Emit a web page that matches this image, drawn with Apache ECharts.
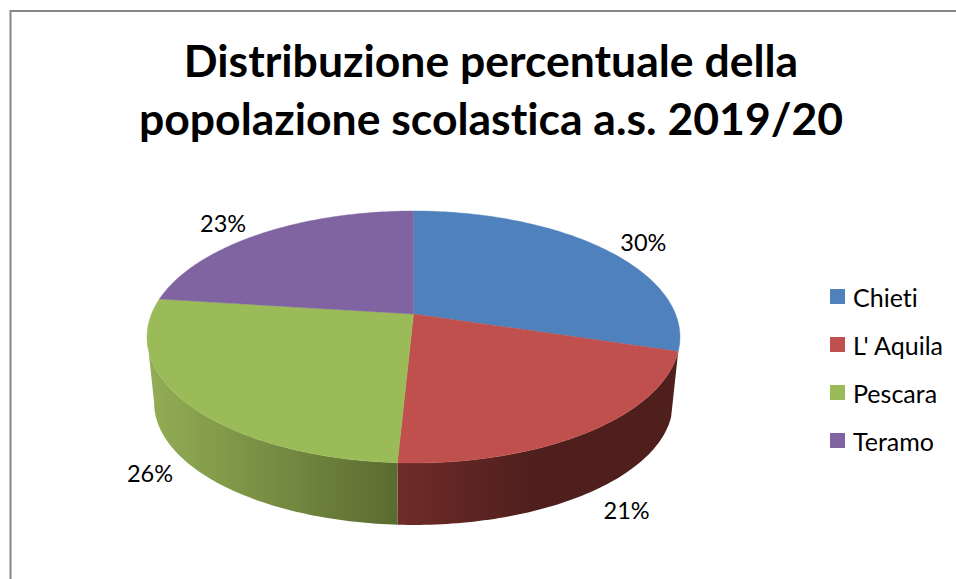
<!DOCTYPE html>
<html><head><meta charset="utf-8">
<style>html,body{margin:0;padding:0;background:#fff}#c{width:956px;height:579px}svg text{font-variant-ligatures:none !important}</style>
<script src="https://cdn.jsdelivr.net/npm/echarts@6/dist/echarts.min.js"></script>
</head><body><div id="c"></div>
<script>
const titleText = "Distribuzione percentuale della\npopolazione scolastica a.s. 2019/20";
const categories = ["Chieti", "L' Aquila", "Pescara", "Teramo"];
const shares = [29.7, 21.1, 26.2, 23.0];
const colors = ["#4F81BD", "#C0504D", "#9BBB59", "#8064A2"];
const wallColors = [
  null,
  ["#702B29", "#4E1F1D", 398, 535],
  ["#93AE55", "#5A6B30", 147, 398],
  null
];
const labelNudge = [[40, -7], [36, 79], [-36, 70], [-38, -11]];

const FONT = "Lato, Carlito, sans-serif";
const TOP = {x: 413.5, y: 314, a: 262, b: 121.8, k: 0.1825};
const BASE = {x: 413.5, y: 380.6, a: 255, b: 118, k: 0.1825};
const FRONT_END = 259.5;
function project(d, deg) {
  const t = deg * Math.PI / 180, u = Math.sin(t), v = -Math.cos(t), w = 1 - d.k * v;
  return [d.x + d.a * u / w, d.y + d.b * v / w];
}
function arc(d, from, to) {
  const pts = [], n = Math.max(2, Math.ceil(Math.abs(to - from)));
  for (let i = 0; i <= n; i++) pts.push(project(d, from + (to - from) * i / n));
  return pts;
}
const total = shares.reduce((a, b) => a + b, 0);
let running = 0;
const series = categories.map((name, i) => {
  const start = running; running += shares[i];
  return {
    type: "custom", name, coordinateSystem: "none", animation: false,
    itemStyle: {color: colors[i]},
    data: [[shares[i], start]],
    renderItem(params, api) {
      const from = api.value(1) / total * 360;
      const to = (api.value(1) + api.value(0)) / total * 360;
      const mid = (from + to) / 2;
      const w = wallColors[i];
      const rim = arc(TOP, from, to);
      const lp = project(TOP, mid);
      const children = [
        {type: "polygon", z2: 2, shape: {points: [[TOP.x, TOP.y]].concat(rim)},
          style: {fill: api.visual("color"), stroke: api.visual("color"), lineWidth: 0.4}},
        {type: "text", z2: 3, x: lp[0] + labelNudge[i][0], y: lp[1] + labelNudge[i][1], style: {
          text: Math.round(api.value(0)) + "%", fill: "#000", font: "23.5px " + FONT,
          textAlign: "center", textVerticalAlign: "middle"}}
      ];
      if (w) {
        const end = Math.min(to, FRONT_END);
        children.push({type: "polygon", z2: 1,
          shape: {points: arc(TOP, from, end).concat(arc(BASE, from, end).reverse())},
          style: {fill: new echarts.graphic.LinearGradient(w[2], 0, w[3], 0,
            [{offset: 0, color: w[0]}, {offset: 1, color: w[1]}], true)}});
      }
      return {type: "group", children};
    }
  };
});
const chart = echarts.init(document.getElementById("c"), null, {renderer: "svg"});
chart.setOption({
  backgroundColor: "#fff",
  animation: false,
  title: {text: titleText, left: 486, top: 25.5, textAlign: "center",
    textStyle: {fontFamily: FONT, fontWeight: "bold", fontSize: 44.5, lineHeight: 58, color: "#000"}},
  legend: {orient: "vertical", left: 830, top: 284, padding: 0, itemWidth: 15, itemHeight: 15, itemGap: 23,
    icon: "rect", data: categories, selectedMode: false,
    textStyle: {fontFamily: FONT, fontSize: 25, color: "#000", lineHeight: 15, padding: [0, 0, 0, 3]}},
  graphic: [{type: "polyline", silent: true, shape: {points: [[10.5, 579], [10.5, 11], [956, 11]]},
    style: {stroke: "#868686", lineWidth: 2, fill: null}}],
  series
});
</script></body></html>
